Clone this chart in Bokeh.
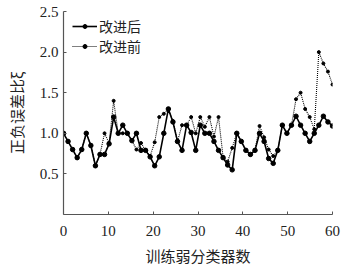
from bokeh.plotting import figure
from bokeh.models import FixedTicker, Legend, LegendItem, PrintfTickFormatter
from bokeh.embed import file_html
from bokeh.resources import INLINE

# 60 weak classifiers drawn evenly over the 0..60 axis
n_points = 60
x_pos = [i * 60 / (n_points - 1) for i in range(n_points)]

after = [1.0, 0.9, 0.8, 0.7, 0.8, 1.0, 0.85, 0.6, 0.74, 0.74,
         0.87, 1.2, 1.0, 1.1, 1.0, 0.91, 1.0, 0.79, 0.79, 0.71,
         0.6, 0.71, 1.0, 1.3, 1.14, 0.9, 0.79, 1.1, 1.01, 0.79,
         1.1, 1.0, 1.0, 0.9, 0.79, 0.7, 0.61, 0.55, 1.0, 0.9,
         0.79, 0.74, 0.79, 1.0, 0.9, 0.69, 0.63, 0.79, 1.1, 1.0,
         1.1, 1.21, 1.1, 1.0, 0.9, 1.0, 1.1, 1.21, 1.14, 1.09]

before = [1.0, 0.9, 0.8, 0.7, 0.8, 1.0, 0.85, 0.6, 0.74, 1.0,
          0.88, 1.4, 1.0, 1.0, 1.0, 0.91, 0.8, 0.88, 0.79, 0.72,
          0.89, 1.2, 1.24, 1.3, 1.15, 0.9, 1.1, 1.1, 1.2, 1.0,
          1.2, 1.08, 1.2, 0.96, 1.2, 0.71, 0.65, 0.82, 1.0, 0.9,
          0.79, 0.74, 0.79, 1.09, 0.95, 0.8, 0.72, 0.79, 1.1, 1.0,
          1.1, 1.42, 1.5, 1.3, 1.2, 1.05, 2.0, 1.86, 1.76, 1.6]

x_ticks = [0, 10, 20, 30, 40, 50, 60]
y_ticks = [0.5, 1.0, 1.5, 2.0, 2.5]
series_names = ["改进后", "改进前"]
x_title = "训练弱分类器数"
y_title = "正负误差比ξ"

NUM_FONT = "Liberation Serif"
CJK_FONT = "Noto Sans CJK SC"

p = figure(width=359, height=268, output_backend="svg", toolbar_location=None,
           x_range=(0, 60), y_range=(0, 2.5),
           min_border_left=63, min_border_right=27, min_border_top=11, min_border_bottom=51)
p.outline_line_color = None
p.xgrid.visible = False
p.ygrid.visible = False
p.background_fill_color = "white"

l1 = p.line(x_pos, after, line_color="black", line_width=1.6)
s1 = p.scatter(x_pos, after, size=4.5, fill_color="black", line_color="black")
l2 = p.line(x_pos, before, line_color="black", line_width=1.1, line_dash="1 1")
s2 = p.scatter(x_pos, before, size=3, fill_color="black", line_color="black")

for ax in (p.xaxis[0], p.yaxis[0]):
    ax.axis_line_color = "#555555"
    ax.axis_line_width = 1.2
    ax.major_tick_in = 3
    ax.major_tick_out = 0
    ax.major_tick_line_color = "#555555"
    ax.minor_tick_line_color = None
    ax.major_label_text_font = NUM_FONT
    ax.major_label_text_font_size = "15px"
    ax.major_label_text_color = "#222222"
    ax.axis_label_text_font = CJK_FONT
    ax.axis_label_text_font_style = "normal"
    ax.axis_label_text_font_size = "15px"
    ax.axis_label_text_color = "#222222"

p.xaxis[0].ticker = FixedTicker(ticks=x_ticks)
p.yaxis[0].ticker = FixedTicker(ticks=y_ticks)
p.yaxis[0].formatter = PrintfTickFormatter(format="%.1f")
p.xaxis[0].major_label_standoff = 11
p.yaxis[0].major_label_standoff = 5
p.xaxis[0].axis_label = x_title
p.yaxis[0].axis_label = y_title
p.xaxis[0].axis_label_standoff = 6
p.yaxis[0].axis_label_standoff = 10

legend = Legend(items=[LegendItem(label=series_names[0], renderers=[l1, s1]),
                       LegendItem(label=series_names[1], renderers=[l2, s2])],
                location=(9, 158), orientation="vertical")
legend.border_line_color = None
legend.background_fill_alpha = 0
legend.padding = 0
legend.margin = 0
legend.spacing = 0
legend.glyph_width = 25
legend.glyph_height = 10
legend.label_height = 20
legend.label_standoff = 2
legend.label_text_font = CJK_FONT
legend.label_text_font_size = "14px"
legend.label_text_color = "#222222"
p.add_layout(legend, "center")

open("out.html", "w").write(file_html(p, INLINE))
